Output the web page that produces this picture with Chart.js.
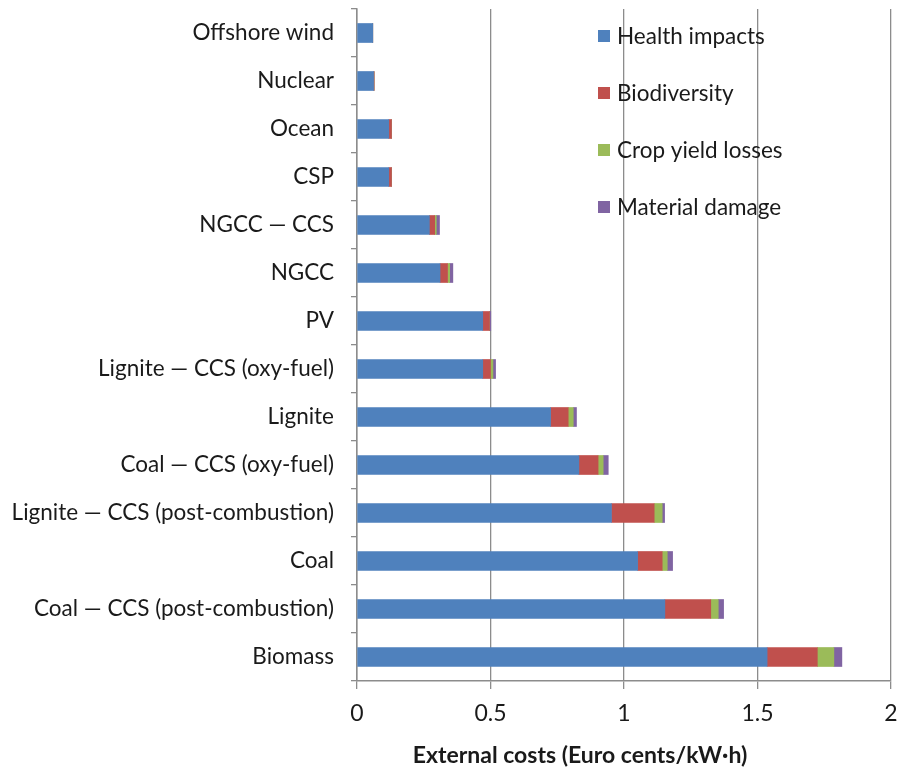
<!DOCTYPE html>
<html>
<head>
<meta charset="UTF-8" />
<script src="https://cdn.jsdelivr.net/npm/chart.js"></script>
<style>
  body, html { margin: 0; padding: 0; background: #fff; }
  #wrap { width: 903px; height: 774px; }
</style>
</head>
<body>
<div id="wrap"><canvas id="myChart"></canvas></div>
<script>
  const categories = ['Offshore wind', 'Nuclear', 'Ocean', 'CSP', 'NGCC \u2014 CCS', 'NGCC', 'PV',
    'Lignite \u2014 CCS (oxy-fuel)', 'Lignite', 'Coal \u2014 CCS (oxy-fuel)',
    'Lignite \u2014 CCS (post-combustion)', 'Coal', 'Coal \u2014 CCS (post-combustion)', 'Biomass'];
  const healthImpacts = [0.059, 0.062, 0.119, 0.119, 0.271, 0.311, 0.471, 0.471, 0.725, 0.831, 0.953, 1.051, 1.153, 1.536];
  const biodiversity = [0, 0.002, 0.010, 0.010, 0.020, 0.028, 0.025, 0.029, 0.066, 0.072, 0.160, 0.092, 0.172, 0.188];
  const cropYieldLosses = [0, 0, 0, 0, 0.006, 0.008, 0, 0.009, 0.019, 0.019, 0.030, 0.019, 0.028, 0.062];
  const materialDamage = [0, 0, 0, 0, 0.012, 0.012, 0.005, 0.010, 0.012, 0.019, 0.009, 0.020, 0.020, 0.030];
  const xTicks = [0, 0.5, 1, 1.5, 2];
  const xTitle = 'External costs (Euro cents/kW\u00b7h)';

  const FONT = 'Lato, "Open Sans", sans-serif';

  // legend inside the plot (one item per row) plus the x title, which sits left of centre
  const extras = {
    id: 'extras',
    afterDraw(chart) {
      const ctx = chart.ctx;
      ctx.save();
      ctx.font = '22.5px ' + FONT;
      ctx.textBaseline = 'middle';
      chart.data.datasets.forEach((ds, i) => {
        const y = 36 + i * 57;
        ctx.fillStyle = ds.backgroundColor;
        ctx.fillRect(598, y - 6, 12, 12);
        ctx.fillStyle = '#1a1a1a';
        ctx.fillText(ds.label, 617, y + 1);
      });
      ctx.font = 'bold 23px ' + FONT;
      ctx.textAlign = 'center';
      ctx.fillText(xTitle, 580, 756);
      ctx.restore();
    }
  };

  const ctx = document.getElementById('myChart').getContext('2d');
  new Chart(ctx, {
    type: 'bar',
    data: {
      labels: categories,
      datasets: [
        { label: 'Health impacts', data: healthImpacts, backgroundColor: '#4f81bd' },
        { label: 'Biodiversity', data: biodiversity, backgroundColor: '#c0504d' },
        { label: 'Crop yield losses', data: cropYieldLosses, backgroundColor: '#9bbb59' },
        { label: 'Material damage', data: materialDamage, backgroundColor: '#8064a2' }
      ]
    },
    options: {
      indexAxis: 'y',
      responsive: true,
      maintainAspectRatio: false,
      animation: false,
      barThickness: 19,
      layout: { padding: { top: 9, right: 12, bottom: 0, left: 0 } },
      plugins: { legend: { display: false }, tooltip: { enabled: false } },
      scales: {
        x: {
          stacked: true,
          min: 0,
          max: 2,
          afterBuildTicks: s => { s.ticks = xTicks.map(v => ({ value: v })); },
          afterFit: s => { s.height = 93; s.paddingLeft = 0; s.paddingRight = 0; },
          ticks: {
            font: { family: FONT, size: 23 },
            color: '#1a1a1a',
            padding: 11,
            maxRotation: 0,
            callback: v => String(v)
          },
          grid: { color: '#8c8c8c', lineWidth: 1.3, tickLength: 8 },
          border: { color: '#8c8c8c', width: 1.5 }
        },
        y: {
          stacked: true,
          afterFit: s => { s.width = 357; s.paddingTop = 0; s.paddingBottom = 0; },
          ticks: {
            font: { family: FONT, size: 22.5 },
            color: '#1a1a1a',
            padding: 17
          },
          grid: { drawOnChartArea: false, color: '#8c8c8c', tickLength: 6, lineWidth: 1.3 },
          border: { color: '#8c8c8c', width: 1.5 }
        }
      }
    },
    plugins: [extras]
  });
</script>
</body>
</html>
